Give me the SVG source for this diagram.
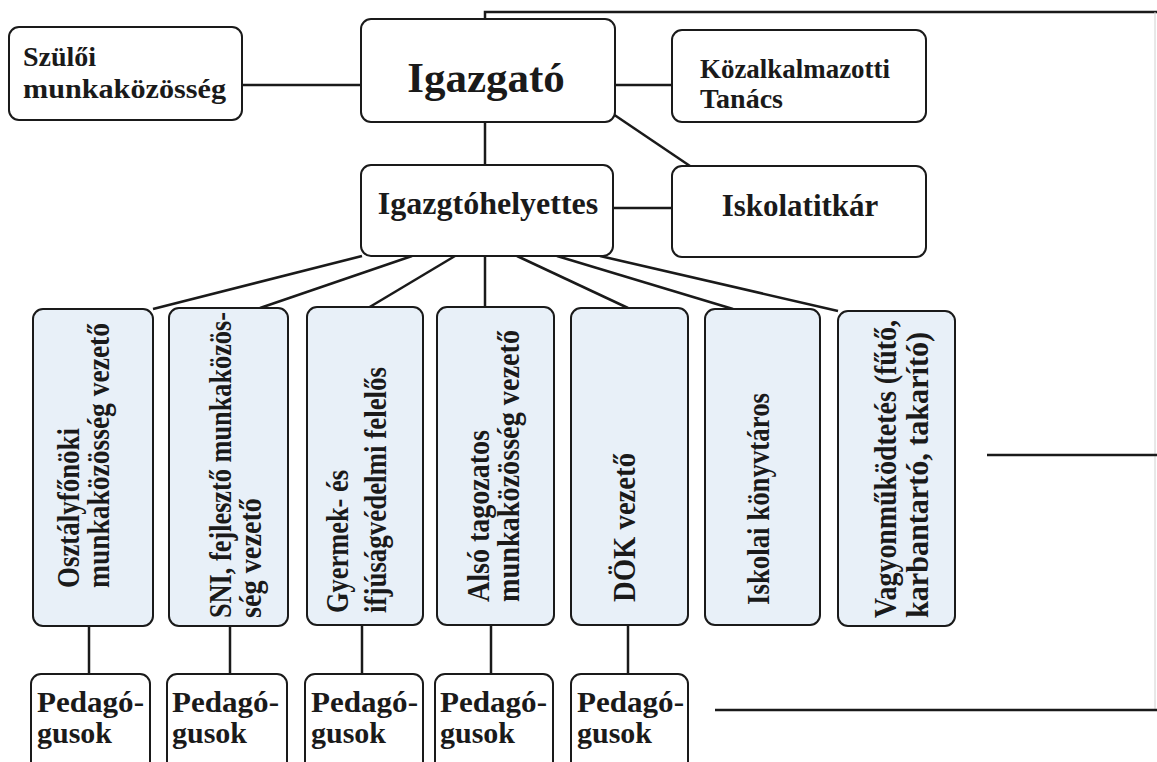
<svg xmlns="http://www.w3.org/2000/svg" width="1157" height="762" viewBox="0 0 1157 762">
<style>
.box{fill:#ffffff;stroke:#1a1a1a;stroke-width:2}
.col{fill:#e8f0f8;stroke:#1a1a1a;stroke-width:2}
.ln{stroke:#1a1a1a;stroke-width:2.5;fill:none}
.faint{stroke:#d0d0d0;stroke-width:1;fill:none}
text{font-family:"Liberation Serif","Times New Roman",serif;font-weight:bold;fill:#1a1a1a}
.t28{font-size:28px}
.t30{font-size:30px}
.t32{font-size:32px}
</style>
<rect width="1157" height="762" fill="#ffffff"/>
<g id="connectors">
<path class="ln" d="M485,19 V12 H1157"/>
<path class="faint" d="M1155,12 V710"/>
<path class="ln" d="M987,455 H1157"/>
<path class="ln" d="M715,710 H1157"/>
<path class="ln" d="M242,85 H361"/>
<path class="ln" d="M615,85 H672"/>
<path class="ln" d="M485,122 V165"/>
<path class="ln" d="M613,114 L690,166"/>
<path class="ln" d="M613,208 H672"/>
<path class="ln" d="M362,256 L153,309"/>
<path class="ln" d="M412,256 L260,308"/>
<path class="ln" d="M455,256 L368,308"/>
<path class="ln" d="M485,256 V308"/>
<path class="ln" d="M517,256 L628,308"/>
<path class="ln" d="M557,256 L733,309"/>
<path class="ln" d="M600,256 L838,311"/>
<path class="ln" d="M89,626 V674"/>
<path class="ln" d="M230,626 V674"/>
<path class="ln" d="M362,625 V674"/>
<path class="ln" d="M491,625 V674"/>
<path class="ln" d="M628,625 V674"/>
</g>
<g id="szuloi">
<rect class="box" x="9" y="27" width="233" height="93" rx="10"/>
<text class="t28" x="23" y="66">Szülői</text>
<text class="t28" x="23" y="98" textLength="203" lengthAdjust="spacingAndGlyphs">munkaközösség</text>
</g>
<g id="igazgato">
<rect class="box" x="361" y="19" width="254" height="103" rx="10"/>
<text x="486" y="92" font-size="43" text-anchor="middle">Igazgató</text>
</g>
<g id="kozalkalmazotti">
<rect class="box" x="672" y="30" width="254" height="92" rx="10"/>
<text class="t28" x="700" y="78" textLength="190" lengthAdjust="spacingAndGlyphs">Közalkalmazotti</text>
<text class="t28" x="700" y="108">Tanács</text>
</g>
<g id="helyettes">
<rect class="box" x="361" y="165" width="252" height="91" rx="10"/>
<text x="488" y="214" font-size="32" text-anchor="middle">Igazgtóhelyettes</text>
</g>
<g id="iskolatitkar">
<rect class="box" x="672" y="166" width="254" height="91" rx="10"/>
<text x="800" y="216" font-size="31" text-anchor="middle">Iskolatitkár</text>
</g>
<g id="osztalyfonoki">
<rect class="col" x="33" y="309" width="120" height="317" rx="10"/>
<text class="t32" transform="translate(79,588) rotate(-90)"><tspan x="0" y="0" textLength="160" lengthAdjust="spacingAndGlyphs">Osztályfőnöki</tspan><tspan x="0" y="30" textLength="265" lengthAdjust="spacingAndGlyphs">munkaközösség vezető</tspan></text>
</g>
<g id="sni">
<rect class="col" x="169" y="308" width="119" height="318" rx="10"/>
<text class="t32" transform="translate(231,618) rotate(-90)"><tspan x="0" y="0" textLength="306" lengthAdjust="spacingAndGlyphs">SNI, fejlesztő munkaközös-</tspan><tspan x="0" y="30" textLength="120" lengthAdjust="spacingAndGlyphs">ség vezető</tspan></text>
</g>
<g id="gyermekvedelmi">
<rect class="col" x="307" y="307" width="116" height="318" rx="10"/>
<text class="t32" transform="translate(348,613) rotate(-90)"><tspan x="0" y="0" textLength="143" lengthAdjust="spacingAndGlyphs">Gyermek- és</tspan><tspan x="0" y="38" textLength="246" lengthAdjust="spacingAndGlyphs">ifjúságvédelmi felelős</tspan></text>
</g>
<g id="also">
<rect class="col" x="437" y="307" width="117" height="318" rx="10"/>
<text class="t32" transform="translate(489,602) rotate(-90)"><tspan x="0" y="0" textLength="172" lengthAdjust="spacingAndGlyphs">Alsó tagozatos</tspan><tspan x="0" y="30" textLength="272" lengthAdjust="spacingAndGlyphs">munkaközösség vezető</tspan></text>
</g>
<g id="dok">
<rect class="col" x="571" y="308" width="117" height="317" rx="10"/>
<text class="t32" transform="translate(635,602) rotate(-90)" textLength="149" lengthAdjust="spacingAndGlyphs">DÖK vezető</text>
</g>
<g id="konyvtaros">
<rect class="col" x="705" y="309" width="115" height="316" rx="10"/>
<text class="t32" transform="translate(769,605) rotate(-90)" textLength="212" lengthAdjust="spacingAndGlyphs">Iskolai könyvtáros</text>
</g>
<g id="vagyon">
<rect class="col" x="838" y="311" width="117" height="315" rx="10"/>
<text class="t32" transform="translate(896,618) rotate(-90)"><tspan x="0" y="0" textLength="298" lengthAdjust="spacingAndGlyphs">Vagyonműködtetés (fűtő,</tspan><tspan x="0" y="32" textLength="286" lengthAdjust="spacingAndGlyphs">karbantartó, takarító)</tspan></text>
</g>
<g id="ped1">
<rect class="box" x="31" y="674" width="119" height="100" rx="10"/>
<text class="t30" x="37" y="712" textLength="107" lengthAdjust="spacingAndGlyphs">Pedagó-</text>
<text class="t30" x="37" y="743">gusok</text>
</g>
<g id="ped2">
<rect class="box" x="167" y="674" width="120" height="100" rx="10"/>
<text class="t30" x="172" y="712" textLength="107" lengthAdjust="spacingAndGlyphs">Pedagó-</text>
<text class="t30" x="172" y="743">gusok</text>
</g>
<g id="ped3">
<rect class="box" x="305" y="674" width="118" height="100" rx="10"/>
<text class="t30" x="311" y="712" textLength="107" lengthAdjust="spacingAndGlyphs">Pedagó-</text>
<text class="t30" x="311" y="743">gusok</text>
</g>
<g id="ped4">
<rect class="box" x="435" y="674" width="118" height="100" rx="10"/>
<text class="t30" x="440" y="712" textLength="107" lengthAdjust="spacingAndGlyphs">Pedagó-</text>
<text class="t30" x="440" y="743">gusok</text>
</g>
<g id="ped5">
<rect class="box" x="571" y="674" width="117" height="100" rx="10"/>
<text class="t30" x="577" y="712" textLength="107" lengthAdjust="spacingAndGlyphs">Pedagó-</text>
<text class="t30" x="577" y="743">gusok</text>
</g>
</svg>
